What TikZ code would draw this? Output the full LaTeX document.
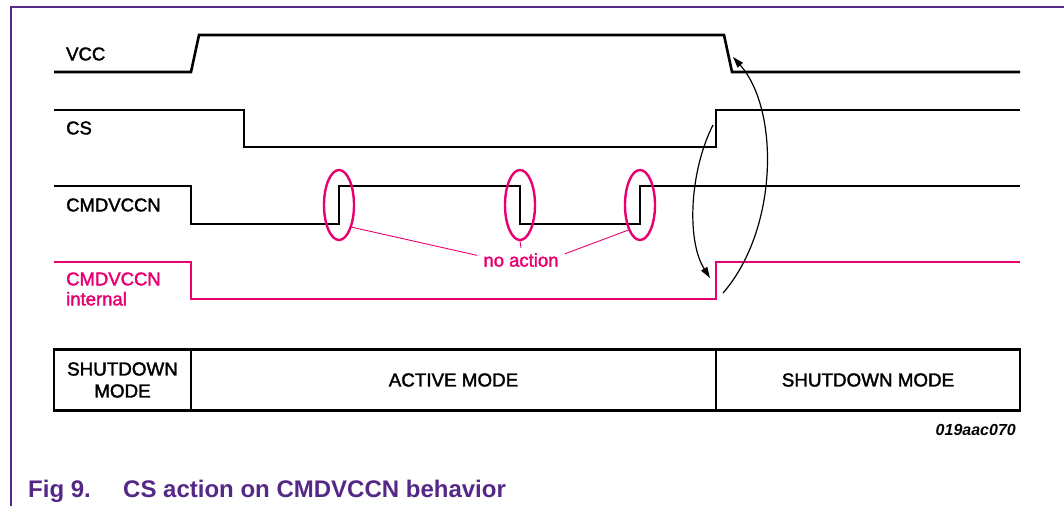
\documentclass[tikz,border=0pt]{standalone}
\usepackage{fontspec}
\setmainfont{Liberation Sans}
\newfontfamily\heavyfont{Liberation Sans}[FakeBold=1.9]
\usepackage{tikz}
\usetikzlibrary{shapes.geometric}
\usetikzlibrary{arrows.meta}
\definecolor{nxppink}{RGB}{232,0,112}
\definecolor{nxppurple}{RGB}{84,40,134}
\tikzset{wave/.style = {line width = 2.6, line join = miter}}
\tikzset{ring/.style = {draw = nxppink, line width = 2.4, ellipse, inner sep = 0, minimum width = 30, minimum height = 70}}
\tikzset{lbl/.style = {anchor = west, inner sep = 0, font = \heavyfont\fontsize{18.5}{20}\selectfont, align = left}}
\tikzset{cell/.style = {draw, line width = 2.6, minimum height = 61, inner sep = 0, font = \heavyfont\fontsize{18.8}{22}\selectfont, align = center}}
\tikzset{causearrow/.style = {line width = 1.2, -{Triangle[length = 11, width = 7]}}}
\tikzset{caption/.style = {anchor = base west, inner sep = 0, nxppurple, font = \fontsize{24}{26}\selectfont\bfseries}}

\begin{document}
\begin{tikzpicture}[x = 1pt, y = -1pt]
      \useasboundingbox (0, 0) rectangle (1064, 506);
      \draw [nxppurple, line width = 1.4] (11, 506) -- (11, 7) -- (1064, 7);

      % signals
      \draw [wave] (54, 72) -- (191, 72) -- (199, 35) -- (724, 35) -- (732, 72) -- (1020, 72);
      \draw [wave] (54, 110) -- (244, 110) -- (244, 147) -- (716, 147) -- (716, 110) -- (1020, 110);
      \draw [wave] (54, 186) -- (191, 186) -- (191, 224) -- (339, 224) -- (339, 186) -- (520, 186)
        -- (520, 224) -- (640, 224) -- (640, 186) -- (1020, 186);
      \draw [wave, nxppink] (54, 262) -- (191, 262) -- (191, 299) -- (716, 299) -- (716, 262) -- (1020, 262);

      \node [lbl] (vcc) at (66, 54) {VCC};
      \node [lbl] (cs) at (66, 128) {CS};
      \node [lbl] (cmd) at (66, 205) {CMDVCCN};
      \node [lbl, nxppink] (cmdint) at (66, 289) {CMDVCCN\\internal};

      % no action marks
      \foreach \x/\n in {339/1, 520/2, 640/3} {
        \node [ring] (e\n) at (\x, 205) {};
      }
      \node [nxppink, inner xsep = 6, inner ysep = 5, font = \heavyfont\fontsize{18.5}{20}\selectfont] (noact) at (521, 260) {no action};
      \draw [nxppink, line width = 0.9] (e1.-60) -- (noact.174);
      \draw [nxppink, line width = 0.9] (e2.south) -- (noact.north);
      \draw [nxppink, line width = 0.9] (e3.-115) -- (noact.8);

      % cause and effect
      \coordinate (csup) at (713, 125);
      \coordinate (intup) at (710, 278);
      \coordinate (intfoot) at (723, 293);
      \coordinate (vccdown) at (733, 57);
      \draw [causearrow] (csup) .. controls (690, 170) and (686, 240) .. (intup);
      \draw [causearrow] (intfoot) .. controls (778, 230) and (780, 110) .. (vccdown);

      % modes
      \node [cell, minimum width = 137] (mode1) at (122.5, 380) {SHUTDOWN\\MODE};
      \node [cell, minimum width = 525] (mode2) at (453.5, 380) {ACTIVE MODE};
      \node [cell, minimum width = 304] (mode3) at (868, 380) {SHUTDOWN MODE};

      \node [anchor = east, inner sep = 0, font = \fontsize{16}{18}\selectfont\bfseries\itshape] (code) at (1016, 430) {019aac070};

      \node [caption] (fig) at (28, 497) {Fig 9.};
      \node [caption] (title) at (123, 497) {CS action on CMDVCCN behavior};
    \end{tikzpicture}
\end{document}
